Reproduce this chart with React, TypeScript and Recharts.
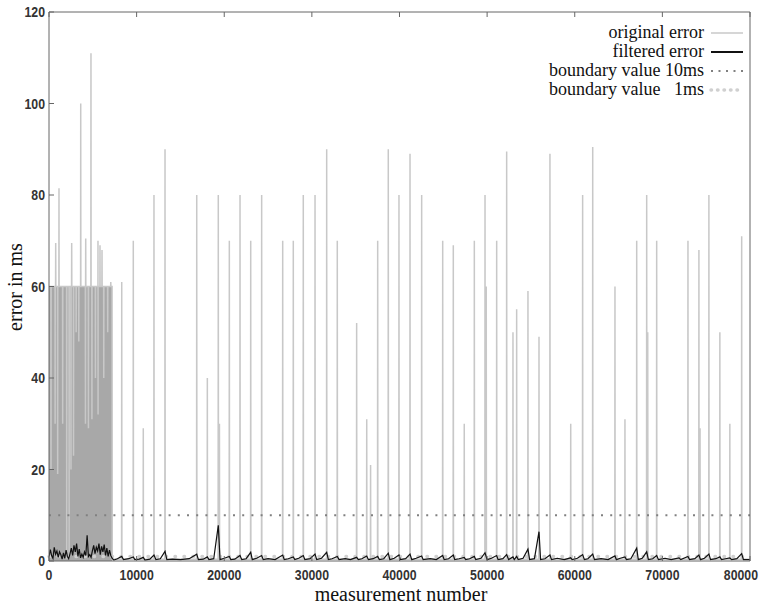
import React from "react";
import {
  ComposedChart,
  Line,
  XAxis,
  YAxis,
  ReferenceArea,
  ReferenceLine,
} from "recharts";

const xTicks = [0, 10000, 20000, 30000, 40000, 50000, 60000, 70000, 80000];
const yTicks = [0, 20, 40, 60, 80, 100, 120];

// dense burst of errors at the start of the run
const burstStart = 0;
const burstEnd = 7200;
const burstLevel = 60;
const burstPeaks: [number, number][] = [
  [765, 69.5], [1140, 81.5], [2590, 69.5], [3620, 100], [4190, 70.5],
  [4790, 111], [5590, 70], [5820, 69], [6050, 68], [7050, 61],
];
const burstDips: [number, number][] = [
  [230, 20], [700, 30], [990, 19], [1560, 30], [2020, 0.5], [2300, 0.5],
  [2510, 20], [2800, 23], [3100, 50], [3400, 48], [4160, 30], [4500, 29],
  [4900, 31], [5300, 40], [5600, 32], [6250, 40], [6700, 50],
];

// isolated outliers after the burst
const errorSpikes: [number, number][] = [
  [8300, 61], [9620, 70], [10760, 29], [11980, 80], [13240, 90],
  [16860, 80], [18070, 40], [19320, 80], [19450, 30], [20580, 70],
  [21800, 80], [23020, 70], [24270, 80], [26670, 70], [27880, 70],
  [29020, 80], [30360, 80], [31690, 90], [32900, 70], [35110, 52],
  [36260, 31], [36700, 21], [37510, 70], [38720, 90], [39940, 80],
  [41200, 89], [42530, 80], [44930, 70], [46140, 69], [47390, 30],
  [48540, 70], [49760, 80], [49900, 60], [51090, 70], [52230, 89.5],
  [52950, 50], [53370, 55], [54660, 59], [55920, 49], [57170, 89],
  [59540, 30], [60900, 80], [62050, 90.5], [64590, 60], [65730, 31],
  [67070, 70], [68210, 80], [68330, 50], [69350, 70], [72920, 70],
  [74170, 68], [74300, 29], [75310, 80], [76560, 50], [77700, 30],
  [79050, 71],
];
const originalBaseline = 0.4;

const filteredError: [number, number][] = [
  [0, 1.0], [150, 2.5], [300, 1.2], [450, 0.6], [600, 3.0], [750, 1.5],
  [900, 2.2], [1050, 0.8], [1200, 2.0], [1350, 1.4], [1500, 0.4], [1650, 1.8],
  [1800, 0.6], [1950, 2.4], [2100, 1.0], [2250, 0.5], [2400, 1.6], [2550, 2.8],
  [2700, 1.2], [2850, 3.4], [3000, 2.0], [3150, 3.8], [3300, 1.0], [3450, 2.6],
  [3600, 0.7], [3750, 1.5], [3900, 0.8], [4050, 2.0], [4200, 1.2], [4350, 5.6],
  [4500, 1.0], [4650, 1.4], [4800, 0.8], [4950, 2.2], [5100, 3.4], [5250, 1.6],
  [5400, 3.0], [5550, 2.2], [5700, 3.8], [5850, 1.4], [6000, 3.2], [6150, 2.0],
  [6300, 3.6], [6450, 1.2], [6600, 2.8], [6750, 1.0], [6900, 2.4], [7050, 1.2],
  [7200, 0.6], [7400, 0.2], [7800, 0.5], [8300, 1.0], [8500, 0.3], [9100, 0.5],
  [9620, 0.9], [9800, 0.3], [10300, 0.4], [10760, 0.8], [10950, 0.2],
  [11500, 0.4], [11980, 1.3], [12200, 0.3], [12700, 0.5], [13240, 2.1],
  [13450, 0.3], [14100, 0.4], [15000, 0.3], [16000, 0.5], [16860, 1.5],
  [17050, 0.3], [17600, 0.4], [18070, 0.9], [18250, 0.3], [18800, 0.5],
  [19320, 7.8], [19520, 0.3], [20000, 0.6], [20580, 1.0], [20750, 0.3],
  [21200, 0.4], [21800, 1.2], [22000, 0.3], [22500, 0.5], [23020, 1.9],
  [23200, 0.3], [23700, 0.6], [24270, 1.2], [24450, 0.3], [25000, 0.5],
  [25800, 0.3], [26670, 1.3], [26850, 0.3], [27300, 0.5], [27880, 0.9],
  [28050, 0.3], [28500, 0.6], [29020, 1.2], [29200, 0.3], [29800, 0.5],
  [30360, 1.5], [30550, 0.3], [31100, 0.6], [31690, 1.9], [31880, 0.3],
  [32300, 0.5], [32900, 1.0], [33100, 0.3], [33800, 0.5], [34400, 0.3],
  [35110, 0.8], [35300, 0.3], [35700, 0.5], [36260, 1.1], [36450, 0.3],
  [37000, 0.5], [37510, 1.0], [37700, 0.3], [38200, 0.5], [38720, 1.7],
  [38900, 0.3], [39400, 0.6], [39940, 1.3], [40100, 0.3], [40700, 0.5],
  [41200, 1.5], [41400, 0.3], [41900, 0.6], [42530, 1.1], [42700, 0.3],
  [43500, 0.5], [44200, 0.3], [44930, 1.2], [45100, 0.3], [45600, 0.5],
  [46140, 1.3], [46300, 0.3], [46800, 0.5], [47390, 0.8], [47550, 0.3],
  [48000, 0.5], [48540, 1.0], [48700, 0.3], [49300, 0.6], [49760, 1.8],
  [50000, 0.3], [50500, 0.6], [51090, 1.2], [51250, 0.3], [51800, 0.5],
  [52230, 1.4], [52450, 0.3], [52950, 0.9], [53100, 0.3], [53370, 1.0],
  [53550, 0.3], [54100, 0.6], [54660, 2.6], [54850, 0.3], [55400, 0.5],
  [55920, 6.4], [56100, 0.3], [56600, 0.5], [57170, 1.3], [57350, 0.3],
  [58000, 0.6], [58800, 0.3], [59540, 0.7], [59700, 0.3], [60300, 0.6],
  [60900, 1.4], [61100, 0.3], [61500, 0.5], [62050, 1.5], [62250, 0.3],
  [63000, 0.5], [63800, 0.3], [64590, 1.1], [64750, 0.3], [65200, 0.6],
  [65730, 0.9], [65900, 0.3], [66400, 0.5], [67070, 2.8], [67250, 0.3],
  [67700, 0.6], [68210, 2.0], [68400, 0.3], [68900, 0.5], [69350, 1.2],
  [69550, 0.3], [70300, 0.6], [71000, 0.3], [71900, 0.7], [72100, 0.3],
  [72920, 1.0], [73100, 0.3], [73700, 0.5], [74170, 1.3], [74350, 0.3],
  [74800, 0.6], [75310, 1.5], [75500, 0.3], [76100, 0.5], [76560, 0.9],
  [76750, 0.3], [77200, 0.5], [77700, 0.7], [77900, 0.3], [78500, 0.5],
  [79050, 1.6], [79250, 0.3], [80000, 0.3],
];

const boundary10 = 10;
const boundary1 = 1;

type Row = { m: number; orig?: number; filt?: number };

function buildRows(): Row[] {
  const rows: Row[] = [];
  // burst: the raw error sits at the burst level with excursions up and down
  const burstEvents = [...burstPeaks, ...burstDips].sort((a, b) => a[0] - b[0]);
  rows.push({ m: burstStart, orig: burstLevel });
  for (const [m, v] of burstEvents) {
    rows.push({ m: m - 15, orig: burstLevel });
    rows.push({ m, orig: v });
    rows.push({ m: m + 15, orig: burstLevel });
  }
  rows.push({ m: burstEnd, orig: burstLevel });
  rows.push({ m: burstEnd + 20, orig: originalBaseline });
  for (const [m, h] of errorSpikes) {
    rows.push({ m: m - 20, orig: originalBaseline });
    rows.push({ m, orig: h });
    rows.push({ m: m + 20, orig: originalBaseline });
  }
  rows.push({ m: 80000, orig: originalBaseline });
  for (const [m, v] of filteredError) rows.push({ m: m + 0.5, filt: v });
  return rows.sort((a, b) => a.m - b.m);
}

const rows = buildRows();

const serif = '"Liberation Serif", "Times New Roman", serif';
const sans = '"Liberation Sans", Arial, sans-serif';
const axisColor = "#666";
const noLabel = () => <g />;

// narrow tick digits, squeezed horizontally; the last one is pulled inside the frame
function XTick(props: any) {
  const { x, y, payload } = props;
  const last = payload.value === xTicks[xTicks.length - 1];
  return (
    <text
      transform={`translate(${last ? x + 8 : x},${y}) scale(0.82,1)`}
      textAnchor={last ? "end" : "middle"}
      dy="0.71em"
      fontFamily={sans}
      fontSize={15}
      fontWeight="bold"
      fill="#333"
    >
      {payload.value}
    </text>
  );
}

function YTick(props: any) {
  const { x, y, payload } = props;
  return (
    <text
      transform={`translate(${x},${y}) scale(0.82,1)`}
      textAnchor="end"
      dy="0.36em"
      fontFamily={sans}
      fontSize={15}
      fontWeight="bold"
      fill="#333"
    >
      {payload.value}
    </text>
  );
}

const legendItems = [
  { label: "original error", color: "#c8c8c8", dash: undefined, width: 1.5, cap: "butt" },
  { label: "filtered error", color: "#111", dash: undefined, width: 2, cap: "butt" },
  { label: "boundary value 10ms", color: "#808080", dash: "2 5.5", width: 2, cap: "butt" },
  { label: "boundary value   1ms", color: "#d0d0d0", dash: "0.5 6", width: 3.5, cap: "round" },
];

export default function App() {
  return (
    <div style={{ position: "absolute", left: 0, top: 0, width: 760, height: 612 }}>
      <ComposedChart
        width={760}
        height={612}
        data={rows}
        margin={{ top: 11, right: 9, bottom: 21, left: 0 }}
      >
        <XAxis
          dataKey="m"
          type="number"
          domain={[0, 80000]}
          ticks={xTicks}
          allowDataOverflow
          height={30}
          tickSize={-5}
          tickMargin={13}
          tick={<XTick />}
          stroke={axisColor}
          interval={0}
        />
        <XAxis
          xAxisId="top"
          orientation="top"
          dataKey="m"
          type="number"
          domain={[0, 80000]}
          ticks={xTicks}
          height={1}
          tickSize={-5}
          tick={noLabel}
          stroke={axisColor}
          interval={0}
        />
        <YAxis
          type="number"
          domain={[0, 120]}
          ticks={yTicks}
          width={49}
          tickSize={-5}
          tickMargin={9}
          tick={<YTick />}
          stroke={axisColor}
          interval={0}
        />
        <YAxis
          yAxisId="right"
          orientation="right"
          type="number"
          domain={[0, 120]}
          ticks={yTicks}
          width={1}
          tickSize={-5}
          tick={noLabel}
          stroke={axisColor}
          interval={0}
        />
        <ReferenceArea
          x1={burstStart}
          x2={burstEnd}
          y1={0}
          y2={burstLevel}
          fill="#a8a8a8"
          fillOpacity={1}
          stroke="none"
        />
        <ReferenceLine
          y={boundary1}
          stroke="#d0d0d0"
          strokeWidth={3.5}
          strokeDasharray="0.5 8.5"
          strokeLinecap="round"
        />
        <Line
          dataKey="orig"
          type="linear"
          stroke="#c8c8c8"
          strokeWidth={1.5}
          dot={false}
          connectNulls
          isAnimationActive={false}
        />
        <ReferenceLine
          y={boundary10}
          stroke="#808080"
          strokeWidth={2}
          strokeDasharray="2 7.2"
        />
        <Line
          dataKey="filt"
          type="linear"
          stroke="#111"
          strokeWidth={1.2}
          dot={false}
          connectNulls
          isAnimationActive={false}
        />
      </ComposedChart>

      <div
        style={{
          position: "absolute",
          left: 0,
          right: 0,
          top: 583,
          textAlign: "center",
          paddingLeft: 42,
          fontFamily: serif,
          fontSize: 20,
          color: "#111",
          whiteSpace: "nowrap",
        }}
      >
        measurement number
      </div>
      <div
        style={{
          position: "absolute",
          left: 15,
          top: 287,
          transform: "translate(-50%, -50%) rotate(-90deg)",
          fontFamily: serif,
          fontSize: 20,
          color: "#111",
          whiteSpace: "nowrap",
        }}
      >
        error in ms
      </div>

      <div
        style={{
          position: "absolute",
          right: 14,
          top: 23,
          fontFamily: serif,
          fontSize: 18,
          color: "#111",
        }}
      >
        {legendItems.map((it) => (
          <div
            key={it.label}
            style={{
              display: "flex",
              justifyContent: "flex-end",
              alignItems: "center",
              height: 19,
              whiteSpace: "pre",
            }}
          >
            <span>{it.label}</span>
            <svg width={38} height={10} style={{ marginLeft: 4 }}>
              <line
                x1={3}
                x2={35}
                y1={5}
                y2={5}
                stroke={it.color}
                strokeWidth={it.width}
                strokeDasharray={it.dash}
                strokeLinecap={it.cap as "butt" | "round"}
              />
            </svg>
          </div>
        ))}
      </div>
    </div>
  );
}
